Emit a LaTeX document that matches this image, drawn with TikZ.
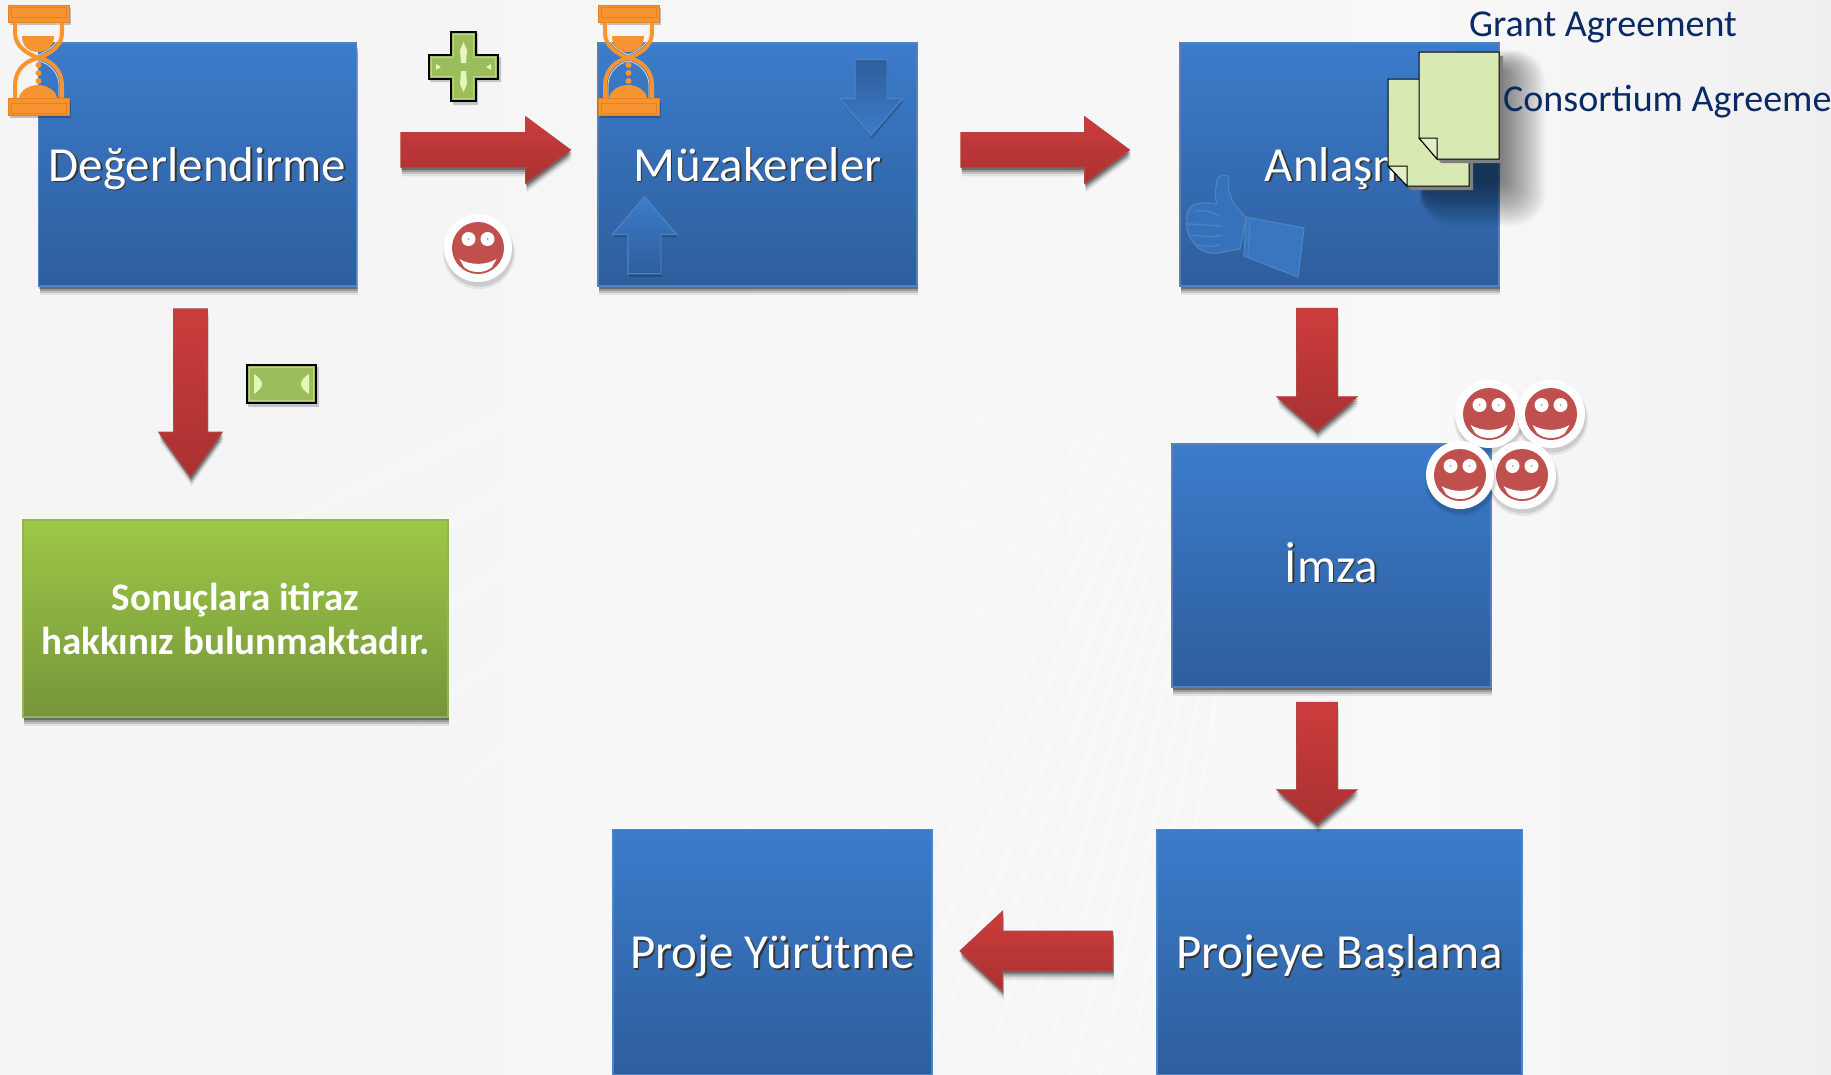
\documentclass[tikz,border=0pt]{standalone}
\usepackage{fontspec}
\setmainfont{Carlito}
\usetikzlibrary{shapes.arrows,shadows}
\definecolor{bgbase}{HTML}{F5F5F5}
\definecolor{bgmid}{HTML}{F6F6F6}
\definecolor{bgband}{HTML}{F9F9F9}
\definecolor{bgright}{HTML}{EFEFEF}
\definecolor{boxtop}{HTML}{3B7CCB}
\definecolor{boxbot}{HTML}{2E5E9C}
\definecolor{boxline}{HTML}{4F83C4}
\definecolor{greentop}{HTML}{9DC847}
\definecolor{greenbot}{HTML}{76953A}
\definecolor{greenline}{HTML}{92B64F}
\definecolor{redtop}{HTML}{CC3D3C}
\definecolor{redbot}{HTML}{A93131}
\definecolor{hgorange}{HTML}{F79432}
\definecolor{hgdark}{HTML}{E9801F}
\definecolor{smred}{HTML}{C0504D}
\definecolor{docfill}{HTML}{D9E9B3}
\definecolor{signgreen}{HTML}{9CBD5C}
\definecolor{signlight}{HTML}{E6F5B8}
\definecolor{navy}{HTML}{0A2A66}
\newcommand{\shadowtext}[1]{\leavevmode\rlap{\kern1.6pt\raisebox{-1.6pt}{\color{black!80}#1}}{\color{white}#1}}
\tikzset{
  softshadow/.style={
    general shadow={fill=black,opacity=.08,shadow xshift=1pt,shadow yshift=-9pt},
    general shadow={fill=black,opacity=.14,shadow xshift=1pt,shadow yshift=-6.5pt},
    general shadow={fill=black,opacity=.2,shadow xshift=1pt,shadow yshift=-4.5pt},
    general shadow={fill=black,opacity=.3,shadow xshift=.5pt,shadow yshift=-2.5pt}},
  bluebox/.style={rectangle,softshadow,top color=boxtop,bottom color=boxbot,draw=boxline,line width=1.5pt,
    align=center,inner sep=0pt,text height=33pt,text depth=0pt,font=\fontsize{49}{54}\selectfont},
  greenbox/.style={rectangle,softshadow,top color=greentop,bottom color=greenbot,draw=greenline,line width=1.5pt,
    align=center,inner sep=0pt,text=white,font=\fontsize{39}{44}\selectfont\bfseries},
  redarrow/.style={single arrow,softshadow,top color=redtop,bottom color=redbot,draw=redbot!90!white,line width=.8pt},
  bluearrowup/.style={single arrow,top color=boxtop,bottom color=boxbot,draw=boxline,line width=1.2pt,
    general shadow={fill=black,opacity=.2,shadow xshift=1pt,shadow yshift=-3pt}},
  bluearrowdown/.style={single arrow,top color=boxbot,bottom color=boxtop,draw=boxline,line width=1.2pt,
    general shadow={fill=black,opacity=.2,shadow xshift=1pt,shadow yshift=-3pt}},
  agreementlabel/.style={anchor=west,inner sep=0pt,text=navy,font=\fontsize{38}{42}\selectfont},
  doc/.style={fill=docfill,draw=black,line width=1pt},
  hourglass/.pic={
    \fill[black,opacity=.22] (2,3) rectangle (63,20);
    \fill[black,opacity=.22] (2,96) rectangle (63,113);
    \draw[hgorange,line width=4pt] (7,14) -- (7,28) .. controls (7,42) and (20,49) .. (30.5,53) .. controls (41,49) and (54,42) .. (54,28) -- (54,14);
    \draw[hgorange,line width=4pt] (7,95) -- (7,80) .. controls (7,65) and (18,55) .. (30.5,53) .. controls (43,55) and (54,65) .. (54,80) -- (54,95);
    \draw[white!70!hgorange,line width=.7pt] (10,14) -- (10,28) .. controls (10,40) and (22,46) .. (30.5,50) .. controls (39,46) and (51,40) .. (51,28) -- (51,14);
    \draw[white!70!hgorange,line width=.7pt] (10,95) -- (10,80) .. controls (10,68) and (20,58) .. (30.5,56) .. controls (41,58) and (51,68) .. (51,80) -- (51,95);
    \fill[hgorange] (14,31) -- (46,31) .. controls (46,42) and (38,47) .. (30,47) .. controls (22,47) and (14,42) .. (14,31) -- cycle;
    \fill[hgorange] (30.5,60) circle (3);
    \fill[hgorange] (30.5,68) circle (3);
    \fill[hgorange] (30.5,76) circle (3);
    \fill[hgorange] (11,93) .. controls (12,85) and (22,80) .. (30,80) .. controls (38,80) and (48,85) .. (49,93) -- cycle;
    \fill[hgorange] (0,0) rectangle (61,17);
    \draw[hgdark,line width=.8pt] (3,2) rectangle (58,12);
    \fill[hgorange] (0,93) rectangle (61,110);
    \draw[hgdark,line width=.8pt] (3,98) rectangle (58,108);
    \draw[hgdark,line width=1pt] (0,0) rectangle (61,17) (0,93) rectangle (61,110);
  },
  smiley/.pic={
    \fill[black,opacity=.07] (1,5) circle (36);
    \fill[black,opacity=.10] (1,4) circle (34.5);
    \fill[white] (0,0) circle (34);
    \fill[smred] (0,0) circle (26);
    \fill[white] (-9.5,-9) circle (7);
    \fill[white] (9.5,-9) circle (7);
    \fill[smred!60!white] (-9.5,-9) circle (1);
    \fill[smred!60!white] (9.5,-9) circle (1);
    \fill[white] (-18.5,11) .. controls (-8,17.5) and (8,17.5) .. (18.5,11) -- (14,19) .. controls (7,25.7) and (-7,25.7) .. (-14,19) -- cycle;
  }
}
\begin{document}
\begin{tikzpicture}[x=1pt,y=-1pt]
\useasboundingbox (0,0) rectangle (1831,1074);
% background
\shade[left color=bgbase,right color=bgmid] (0,0) rectangle (1000.5,1074);
\shade[left color=bgmid,right color=bgband] (1000,0) rectangle (1420.5,1074);
\shade[left color=bgband,right color=bgright] (1420,0) rectangle (1831,1074);
\foreach \a/\w in {205/1.5,209/1.6,213/1.5,217/1.6,221/1.4,225/1.4,228/1.2,231/1.1,234/1,237/.95,239/.85,241/.75,243/.7,245/.65,247/.6,249/.55,250.5/.5,252/.45,253.5/.45,255/.4,256.5/.4,258/.35,259.5/.35,261/.3}{
  \begin{scope}[shift={(1320,40)},rotate=\a]
    \fill[white,opacity=.18] (400,0) .. controls (650,-\w*12) and (950,-\w*12) .. (1180,0) .. controls (950,\w*12) and (650,\w*12) .. (400,0) -- cycle;
    \fill[white,opacity=.22] (430,0) .. controls (650,-\w*8) and (930,-\w*8) .. (1150,0) .. controls (930,\w*8) and (650,\w*8) .. (430,0) -- cycle;
  \end{scope}
}
% big boxes
\node[bluebox,minimum width=318pt,minimum height=243pt] (deger) at (197.5,164.5) {\shadowtext{Değerlendirme}};
\node[bluebox,minimum width=319pt,minimum height=243pt] (muzak) at (757.5,164.5) {\shadowtext{Müzakereler}};
\node[bluebox,minimum width=319pt,minimum height=243pt] (anlasma) at (1339.5,164.5) {\hspace*{21pt}\shadowtext{Anlaşma}};
\node[bluebox,minimum width=319pt,minimum height=243pt] (imza) at (1331.5,565.5) {\shadowtext{İmza}};
\node[bluebox,minimum width=319pt,minimum height=245pt] (yurutme) at (772.5,952) {\shadowtext{Proje Yürütme}};
\node[bluebox,minimum width=365pt,minimum height=245pt] (baslama) at (1339.5,952) {\shadowtext{Projeye Başlama}};
\node[greenbox,minimum width=425pt,minimum height=197pt] (itiraz) at (235.5,618.5) {Sonuçlara itiraz\\hakkınız bulunmaktadır.};
% red block arrows
\node[redarrow,inner sep=17pt,minimum height=170pt,minimum width=66pt,single arrow head extend=16pt,single arrow tip angle=73] (r1) at (474,150) {};
\node[redarrow,inner sep=17pt,minimum height=169pt,minimum width=66pt,single arrow head extend=16pt,single arrow tip angle=73] (r2) at (1033.5,150) {};
\node[redarrow,inner sep=16.5pt,minimum height=168pt,minimum width=63pt,single arrow head extend=15pt,single arrow tip angle=71,shape border rotate=270] (d1) at (190.5,381) {};
\node[redarrow,inner sep=20pt,minimum height=123pt,minimum width=80pt,single arrow head extend=20pt,single arrow tip angle=99,shape border rotate=270] (d2) at (1317,361) {};
\node[redarrow,inner sep=20pt,minimum height=122pt,minimum width=80pt,single arrow head extend=20pt,single arrow tip angle=99,shape border rotate=270] (d3) at (1317,754.5) {};
\node[redarrow,inner sep=19.5pt,minimum height=153pt,minimum width=79pt,single arrow head extend=20pt,single arrow tip angle=86,shape border rotate=180] (l1) at (1047,951) {};
% blue arrows inside Müzakereler
\node[bluearrowup,inner sep=16pt,minimum height=77pt,minimum width=63pt,single arrow head extend=15.5pt,single arrow tip angle=81,shape border rotate=90] (upa) at (644.5,245) {};
\node[bluearrowdown,inner sep=15.5pt,minimum height=76pt,minimum width=62pt,single arrow head extend=15.5pt,single arrow tip angle=81,shape border rotate=270] (downa) at (871,88) {};
% thumb
\begin{scope}[boxline]
\filldraw[fill=boxtop!92!black,line width=1.2pt,line join=round]
 (1217,181) .. controls (1218,174) and (1229,172) .. (1229,180) .. controls (1227,186) and (1230,196) .. (1233,202)
 .. controls (1236,208) and (1243,214) .. (1246,218) -- (1240,249) .. controls (1232,250) and (1224,252) .. (1218,253)
 .. controls (1210,254) and (1200,252) .. (1195,244) .. controls (1189,238) and (1186,230) .. (1187,222)
 .. controls (1186,214) and (1188,206) .. (1196,204) .. controls (1203,202) and (1212,203) .. (1217,204)
 .. controls (1214,198) and (1216,188) .. (1217,181) -- cycle;
\draw[line width=1.2pt,line cap=round] (1194,212) .. controls (1202,209) and (1214,212) .. (1219,216) (1188,224) .. controls (1200,224) and (1212,226) .. (1222,226) (1191,235) .. controls (1202,236) and (1212,238) .. (1222,235) (1197,245) .. controls (1205,246) and (1214,248) .. (1220,244);
\filldraw[fill=boxtop!95!black,line width=1.2pt,line join=round] (1246,217) -- (1304,228) -- (1298,277) -- (1244,256) -- cycle;
\draw[line width=1pt] (1250,218) -- (1248,257);
\end{scope}
% big shadow behind the documents
\foreach \i in {1,...,22}{
  \pgfmathsetmacro{\rc}{2+\i*1.4}
  \fill[black,opacity=.026,rounded corners=\rc pt] (1430,72-\i) -- (1499+2.1*\i,72-\i) -- (1499+2.1*\i,180+2.1*\i) -- (1420,180+2.1*\i) -- (1420,175) -- (1430,175) -- cycle;
}
% documents
\fill[black!50] (1392,83) -- (1473,83) -- (1473,190) -- (1411,190) -- (1392,170) -- cycle;
\draw[doc] (1388,79) -- (1469,79) -- (1469,186) -- (1407,186) -- (1388,166) -- cycle;
\fill[docfill!75!white] (1388,166) -- (1407,166) -- (1407,186) -- cycle;
\draw[black,line width=1pt] (1388,166) -- (1407,166) -- (1407,186) -- cycle;
\fill[black!50] (1423,56) -- (1503,56) -- (1503,163) -- (1441,163) -- (1423,142) -- cycle;
\draw[doc] (1419,52) -- (1499,52) -- (1499,159) -- (1437,159) -- (1419,138) -- cycle;
\fill[docfill!75!white] (1419,138) -- (1437,138) -- (1437,159) -- cycle;
\draw[black,line width=1pt] (1419,138) -- (1437,138) -- (1437,159) -- cycle;
% labels
\node[agreementlabel] (grant) at (1469,27) {Grant Agreement};
\node[agreementlabel] (consort) at (1503,102) {Consortium Agreeme};
% hourglasses
\pic (hg1) at (8,5) {hourglass};
\pic (hg2) at (598,5) {hourglass};
% plus sign
\path[fill=black,opacity=.2] (453,33) -- (478,33) -- (478,57) -- (501,57) -- (501,82) -- (478,82) -- (478,105) -- (453,105) -- (453,82) -- (430,82) -- (430,57) -- (453,57) -- cycle;
\filldraw[fill=signgreen,draw=black,line width=2.6pt,line join=miter] (451,32) -- (476,32) -- (476,55) -- (498,55) -- (498,79) -- (476,79) -- (476,101) -- (451,101) -- (451,79) -- (429,79) -- (429,55) -- (451,55) -- cycle;
\draw[signlight,opacity=.45,line width=1.5pt] (453.5,34.5) -- (473.5,34.5) -- (473.5,57.5) -- (495.5,57.5) -- (495.5,76.5) -- (473.5,76.5) -- (473.5,98.5) -- (453.5,98.5) -- (453.5,76.5) -- (431.5,76.5) -- (431.5,57.5) -- (453.5,57.5) -- cycle;
\fill[signlight] (463.5,42) -- (467,50) -- (466,63) -- (461,63) -- (460,50) -- cycle;
\fill[signlight] (463.5,92) -- (467,84) -- (466,71) -- (461,71) -- (460,84) -- cycle;
\fill[signlight] (441,67) -- (436,64) -- (436,70) -- cycle;
\fill[signlight] (486,67) -- (491,64) -- (491,70) -- cycle;
% minus sign
\fill[black,opacity=.2] (248,367) rectangle (319,407);
\filldraw[fill=signgreen,draw=black,line width=2.6pt] (247,365) rectangle (316,403);
\draw[signlight,opacity=.45,line width=1.5pt] (249.5,367.5) rectangle (313.5,400.5);
\fill[signlight] (254,374) .. controls (260,378) and (262,381) .. (262,384) .. controls (262,387) and (260,390) .. (254,394) -- cycle;
\fill[signlight] (309,374) .. controls (303,378) and (301,381) .. (301,384) .. controls (301,387) and (303,390) .. (309,394) -- cycle;
% smileys
\pic (s0) at (478,248) {smiley};
\pic (s1) at (1489,414) {smiley};
\pic (s2) at (1551,414) {smiley};
\pic (s3) at (1522,475) {smiley};
\pic (s4) at (1460,475) {smiley};
\end{tikzpicture}
\end{document}
